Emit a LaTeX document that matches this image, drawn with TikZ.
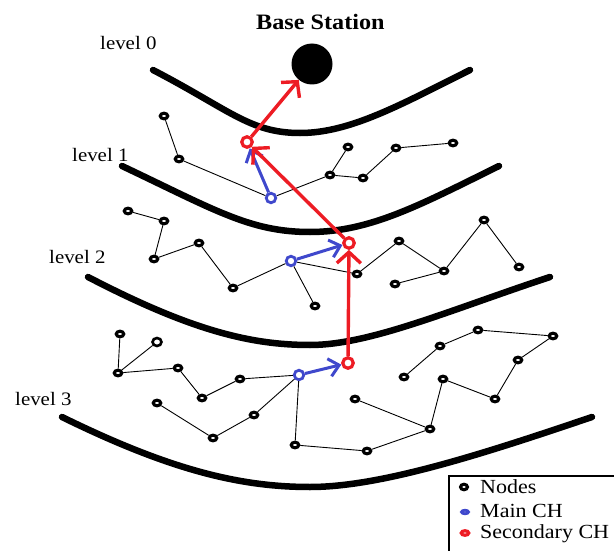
\documentclass[tikz,border=0pt]{standalone}
\usepackage{fontspec}
\setmainfont{Liberation Serif}
\usetikzlibrary{shapes.geometric,arrows.meta}
\definecolor{chblue}{HTML}{3F48CC}
\definecolor{chred}{HTML}{ED1C24}
\tikzset{
  levelline/.style={line width=6.5pt, line cap=round},
  nd/.style={ellipse, draw=black, fill=white, line width=3.1pt, minimum width=7.5pt, minimum height=5.6pt, inner sep=0pt},
  ndw/.style={nd, line width=2.6pt, minimum width=9pt, minimum height=8pt},
  mainch/.style={circle, draw=chblue, fill=white, line width=2.8pt, minimum size=9.5pt, inner sep=0pt},
  secch/.style={circle, draw=chred, fill=white, line width=3.2pt, minimum size=10.5pt, inner sep=0pt},
  edge/.style={line width=0.9pt, black},
  redarrow/.style={chred, line width=3.4pt, -{Straight Barb[length=11pt, width=24pt]}},
  bluearrow/.style={chblue, line width=3pt, -{Straight Barb[length=10pt, width=18pt]}},
  lbl/.style={anchor=base west, inner sep=0pt, font=\fontsize{19}{22}\selectfont},
  leg/.style={anchor=base west, inner sep=0pt, font=\fontsize{20}{23}\selectfont},
}
\begin{document}
\begin{tikzpicture}[x=1pt, y=-1pt]
\useasboundingbox (0,0) rectangle (614,551);
% level boundaries
\draw[levelline] (153,70) .. controls (230,110) and (250,133) .. (300,133) .. controls (350,133) and (400,105) .. (470,70);
\draw[levelline] (122,166) .. controls (215,210) and (250,232) .. (310,232) .. controls (370,232) and (420,205) .. (499,166);
\draw[levelline] (88,277) .. controls (190,330) and (250,345) .. (310,345) .. controls (370,345) and (450,310) .. (550,277);
\draw[levelline] (62,417) .. controls (170,470) and (240,487) .. (310,487) .. controls (380,487) and (480,455) .. (592,417);
% labels
\node[anchor=base west, inner sep=0pt, font=\bfseries\fontsize{22}{26}\selectfont] (title) at (256,30) {\scalebox{1.1}[1]{Base Station}};
\node[lbl] (l0) at (100,50) {\scalebox{1.1}[1]{level 0}};
\node[lbl] (l1) at (72,161) {\scalebox{1.1}[1]{level 1}};
\node[lbl] (l2) at (49,263) {\scalebox{1.1}[1]{level 2}};
\node[lbl] (l3) at (15,405) {\scalebox{1.1}[1]{level 3}};
% base station
\node[circle, fill=black, minimum size=41pt, inner sep=0pt] (bs) at (312,64) {};
% level 1 nodes
\node[nd] (a1) at (164,116) {};
\node[nd] (a2) at (179,159) {};
\node[nd] (a3) at (330,175) {};
\node[nd] (a4) at (348,147) {};
\node[nd] (a5) at (363,178) {};
\node[nd] (a6) at (396,148) {};
\node[nd] (a7) at (453,143) {};
\node[mainch] (m1) at (271,198) {};
\node[secch] (s1) at (247,142) {};
% level 2 nodes
\node[nd] (b1) at (128,211) {};
\node[nd] (b2) at (164,221) {};
\node[nd] (b3) at (154,259) {};
\node[nd] (b4) at (199,243) {};
\node[nd] (b5) at (233,288) {};
\node[nd] (b6) at (315,306) {};
\node[nd] (b7) at (357,274) {};
\node[nd] (b8) at (399,241) {};
\node[nd] (b9) at (444,271) {};
\node[nd] (b10) at (395,284) {};
\node[nd] (b11) at (484,220) {};
\node[nd] (b12) at (519,267) {};
\node[mainch] (m2) at (291,261) {};
\node[secch] (s2) at (349,243) {};
% level 3 nodes
\node[nd] (c1) at (120,334) {};
\node[ndw] (c2) at (157,342) {};
\node[nd] (c3) at (118,373) {};
\node[nd] (c4) at (178,368) {};
\node[nd] (c5) at (202,398) {};
\node[nd] (c6) at (240,379) {};
\node[nd] (c7) at (254,415) {};
\node[nd] (c8) at (213,438) {};
\node[nd] (c9) at (157,403) {};
\node[nd] (c10) at (295,445) {};
\node[nd] (c11) at (367,451) {};
\node[nd] (c12) at (430,429) {};
\node[nd] (c13) at (355,399) {};
\node[nd] (c14) at (443,379) {};
\node[nd] (c15) at (495,399) {};
\node[nd] (c16) at (518,360) {};
\node[nd] (c17) at (553,336) {};
\node[nd] (c18) at (478,330) {};
\node[nd] (c19) at (440,346) {};
\node[nd] (c20) at (404,377) {};
\node[mainch] (m3) at (299,375) {};
\node[secch] (s3) at (348,363) {};
% edges
\draw[edge] (a1) -- (a2);
\draw[edge] (a2) -- (m1);
\draw[edge] (m1) -- (a3);
\draw[edge] (a3) -- (a4);
\draw[edge] (a3) -- (a5);
\draw[edge] (a5) -- (a6);
\draw[edge] (a6) -- (a7);
\draw[edge] (b1) -- (b2);
\draw[edge] (b2) -- (b3);
\draw[edge] (b3) -- (b4);
\draw[edge] (b4) -- (b5);
\draw[edge] (b5) -- (m2);
\draw[edge] (m2) -- (b6);
\draw[edge] (m2) -- (b7);
\draw[edge] (b7) -- (b8);
\draw[edge] (b8) -- (b9);
\draw[edge] (b10) -- (b9);
\draw[edge] (b9) -- (b11);
\draw[edge] (b11) -- (b12);
\draw[edge] (c1) -- (c3);
\draw[edge] (c2) -- (c3);
\draw[edge] (c3) -- (c4);
\draw[edge] (c4) -- (c5);
\draw[edge] (c5) -- (c6);
\draw[edge] (c6) -- (m3);
\draw[edge] (m3) -- (c7);
\draw[edge] (c7) -- (c8);
\draw[edge] (c8) -- (c9);
\draw[edge] (m3) -- (c10);
\draw[edge] (c10) -- (c11);
\draw[edge] (c11) -- (c12);
\draw[edge] (c13) -- (c12);
\draw[edge] (c12) -- (c14);
\draw[edge] (c14) -- (c15);
\draw[edge] (c15) -- (c16);
\draw[edge] (c16) -- (c17);
\draw[edge] (c17) -- (c18);
\draw[edge] (c18) -- (c19);
\draw[edge] (c19) -- (c20);
% cluster-head arrows
\draw[bluearrow] (m1) -- (s1);
\draw[redarrow] (s2) -- (s1);
\draw[redarrow] (s1) -- (bs);
\draw[bluearrow] (m2) -- (s2);
\draw[redarrow] (s3) -- (s2);
\draw[bluearrow] (m3) -- (s3);
% legend
\draw[line width=2.5pt] (449,556) -- (449,476) -- (618,476);
\node[ellipse, draw=black, fill=white, line width=3.1pt, minimum width=7pt, minimum height=5.5pt, inner sep=0pt] (kn) at (464,487) {};
\node[ellipse, draw=chblue, fill=white, line width=2.8pt, minimum width=7pt, minimum height=3.5pt, inner sep=0pt] (km) at (465,512) {};
\node[ellipse, draw=chred, fill=white, line width=3.2pt, minimum width=7.5pt, minimum height=4.5pt, inner sep=0pt] (ks) at (465,533) {};
\node[leg] (tn) at (480,493) {\scalebox{1.1}[1]{Nodes}};
\node[leg] (tm) at (480,517) {\scalebox{1.1}[1]{Main CH}};
\node[leg] (ts) at (480,538) {\scalebox{1.1}[1]{Secondary CH}};
\end{tikzpicture}
\end{document}
